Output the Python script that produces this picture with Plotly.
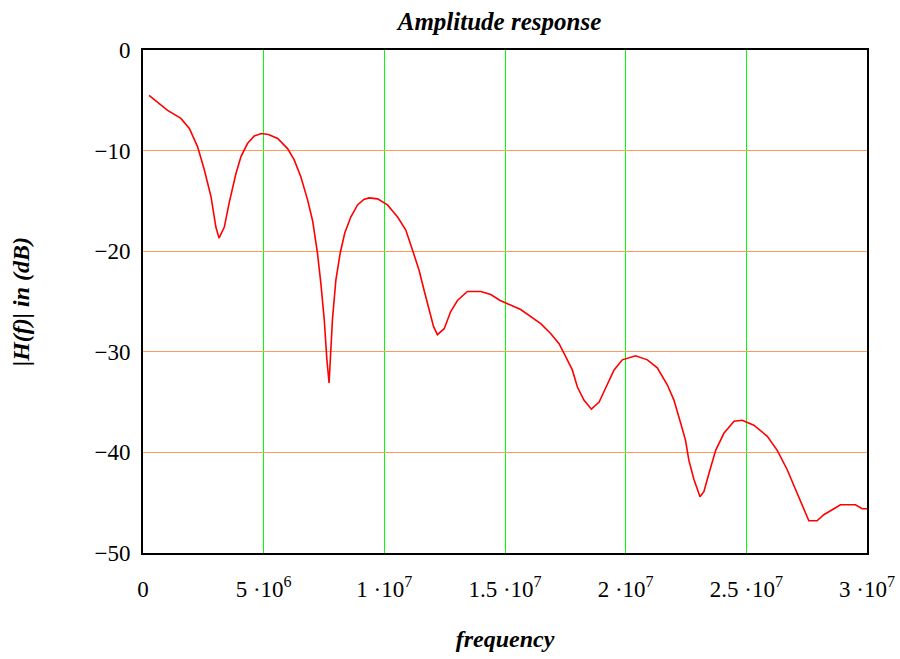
import numpy as np
import plotly.graph_objects as go

freq_mhz = [0.25, 0.65, 1.02, 1.57, 1.92, 2.26, 2.54, 2.82, 3.02, 3.15, 3.37, 3.57, 3.85, 4.06, 4.33,
            4.61, 4.9, 5.2, 5.58, 5.99, 6.26, 6.54, 6.82, 7.03, 7.23, 7.37, 7.51, 7.62, 7.71, 7.85,
            7.99, 8.17, 8.36, 8.61, 8.89, 9.15, 9.37, 9.72, 10.13, 10.55, 10.89, 11.17, 11.44, 11.65,
            11.86, 12.04, 12.2, 12.48, 12.75, 13.03, 13.44, 14.0, 14.41, 14.8, 15.65, 16.48, 16.9,
            17.24, 17.52, 17.79, 18.0, 18.27, 18.58, 18.9, 19.17, 19.52, 19.86, 20.41, 20.9, 21.31,
            21.73, 22.0, 22.28, 22.48, 22.62, 22.83, 23.08, 23.24, 23.45, 23.73, 24.07, 24.49, 24.83,
            25.31, 25.87, 26.28, 26.69, 27.04, 27.32, 27.59, 27.93, 28.21, 28.63, 28.9, 29.52, 29.8, 30.0]
h_db = [-4.5, -5.3, -6.0, -6.8, -7.8, -9.6, -11.9, -14.6, -17.6, -18.7, -17.6, -15.2, -12.3, -10.6, -9.3,
        -8.55, -8.3, -8.4, -8.8, -9.8, -10.9, -12.6, -14.9, -17.0, -20.2, -23.2, -26.8, -30.8, -33.1, -26.8,
        -22.9, -20.2, -18.2, -16.6, -15.4, -14.85, -14.7, -14.8, -15.4, -16.6, -17.9, -19.9, -21.9, -23.9,
        -25.8, -27.5, -28.3, -27.7, -26.0, -24.9, -24.0, -24.0, -24.3, -24.9, -25.8, -27.2, -28.2,
        -29.2, -30.5, -31.8, -33.5, -34.8, -35.7, -35.0, -33.6, -31.8, -30.8, -30.4, -30.8, -31.6,
        -33.3, -34.8, -37.1, -38.8, -40.8, -42.7, -44.4, -43.9, -42.1, -39.8, -38.1, -36.9, -36.8,
        -37.3, -38.4, -39.8, -41.7, -43.7, -45.4, -46.8, -46.8, -46.2, -45.6, -45.2, -45.2, -45.6, -45.6]

x_tickvals = [0, 5e6, 1e7, 1.5e7, 2e7, 2.5e7, 3e7]
x_ticktext = ["0", "5 \u00b710<sup>6</sup>", "1 \u00b710<sup>7</sup>", "1.5 \u00b710<sup>7</sup>",
              "2 \u00b710<sup>7</sup>", "2.5 \u00b710<sup>7</sup>", "3 \u00b710<sup>7</sup>"]
y_tickvals = [0, -10, -20, -30, -40, -50]
y_ticktext = ["0", "\u221210", "\u221220", "\u221230", "\u221240", "\u221250"]

freq_hz = np.array(freq_mhz) * 1e6

font_family = "Liberation Serif, Times New Roman, serif"

fig = go.Figure()
fig.add_trace(go.Scatter(x=freq_hz, y=h_db, mode="lines",
                         line=dict(color="#ff0000", width=1.6), showlegend=False))

fig.update_layout(
    width=900, height=659,
    margin=dict(l=143, r=33, t=50, b=106),
    paper_bgcolor="white", plot_bgcolor="white",
    font=dict(family=font_family, size=24, color="black"),
    title=dict(text="<b><i>Amplitude response</i></b>", x=0.555, xanchor="center",
               y=0.968, yanchor="middle", font=dict(size=25, family=font_family, color="black")),
    xaxis=dict(
        range=[0, 3e7], tickvals=x_tickvals, ticktext=x_ticktext,
        showgrid=True, gridcolor="#00ff00", gridwidth=1,
        showline=True, linecolor="black", linewidth=2, mirror=True,
        ticks="", zeroline=False, ticklabelstandoff=14, automargin=False,
        tickfont=dict(family=font_family, size=23, color="black"),
        title=dict(text="<b><i>frequency</i></b>", standoff=30,
                   font=dict(family=font_family, size=24, color="black")),
    ),
    yaxis=dict(
        range=[-50, 0], tickvals=y_tickvals, ticktext=y_ticktext,
        showgrid=True, gridcolor="#ff9a60", gridwidth=1,
        showline=True, linecolor="black", linewidth=2, mirror=True,
        ticks="", zeroline=False, ticklabelstandoff=6, automargin=False,
        tickfont=dict(family=font_family, size=23, color="black"),
        title=dict(text="<b><i>|H(f)| in (dB)</i></b>", standoff=58,
                   font=dict(family=font_family, size=24, color="black")),
    ),
)

fig.write_html("out.html")
